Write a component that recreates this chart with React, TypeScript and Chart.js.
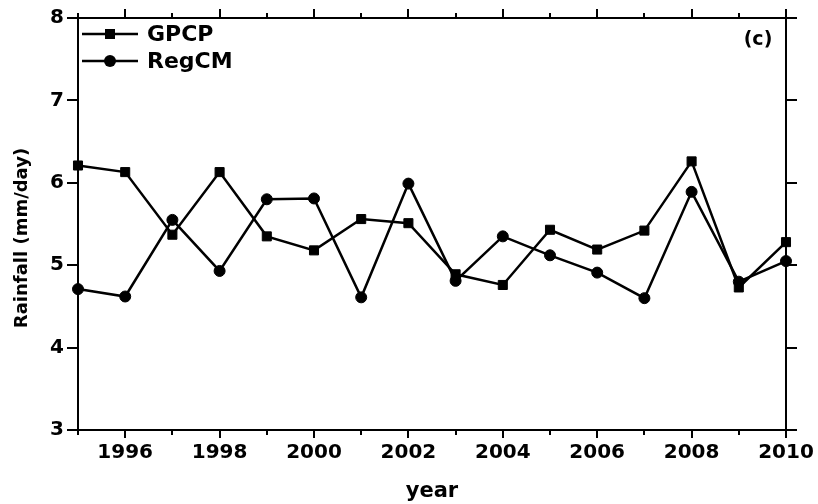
import React, { useEffect, useRef } from 'react';
import { Chart, registerables } from 'chart.js';

Chart.register(...registerables);

const years = [1995, 1996, 1997, 1998, 1999, 2000, 2001, 2002, 2003, 2004, 2005, 2006, 2007, 2008, 2009, 2010];
const gpcp = [6.21, 6.13, 5.37, 6.13, 5.35, 5.18, 5.56, 5.51, 4.89, 4.76, 5.43, 5.19, 5.42, 6.26, 4.73, 5.28];
const regcm = [4.71, 4.62, 5.55, 4.93, 5.80, 5.81, 4.61, 5.99, 4.81, 5.35, 5.12, 4.91, 4.60, 5.89, 4.80, 5.05];
const yTicks = [3, 4, 5, 6, 7, 8];
const seriesNames = ['GPCP', 'RegCM'];
const seriesMarkers = ['rect', 'circle'];
const panelLabel = '(c)';
const xTitle = 'year';
const yTitle = 'Rainfall (mm/day)';

const FONT = "'DejaVu Sans', 'Liberation Sans', sans-serif";

const frameTicks = {
  id: 'frameTicks',
  afterDraw(chart: any) {
    const ctx = chart.ctx;
    const { left, right, top, bottom } = chart.chartArea;
    const xs = chart.scales.x;
    const ys = chart.scales.y;
    ctx.save();
    ctx.strokeStyle = '#000';
    ctx.lineWidth = 2;
    ctx.beginPath();
    for (const yr of years) {
      const px = Math.round(xs.getPixelForValue(yr));
      const major = yr % 2 === 0;
      ctx.moveTo(px, bottom);
      ctx.lineTo(px, bottom + (major ? 8 : 5));
      ctx.moveTo(px, top);
      ctx.lineTo(px, top - (major ? 9 : 5));
    }
    for (const v of yTicks) {
      const py = Math.round(ys.getPixelForValue(v));
      ctx.moveTo(left, py);
      ctx.lineTo(left - 11, py);
      ctx.moveTo(right, py);
      ctx.lineTo(right + 11, py);
    }
    ctx.stroke();

    // y axis title
    ctx.fillStyle = '#000';
    ctx.font = `bold 18px ${FONT}`;
    ctx.textAlign = 'center';
    ctx.textBaseline = 'middle';
    ctx.save();
    ctx.translate(22, 238);
    ctx.rotate(-Math.PI / 2);
    ctx.fillText(yTitle, 0, 0);
    ctx.restore();

    // panel label
    ctx.font = `bold 19px ${FONT}`;
    ctx.textAlign = 'center';
    ctx.fillText(panelLabel, right - 28, top + 22);

    // legend
    chart.data.datasets.forEach((ds: any, i: number) => {
      const y = top + 16 + i * 27;
      ctx.beginPath();
      ctx.lineWidth = 2.5;
      ctx.moveTo(left + 4, y);
      ctx.lineTo(left + 60, y);
      ctx.stroke();
      const cx = left + 32;
      ctx.beginPath();
      if (seriesMarkers[i] === 'rect') {
        ctx.rect(cx - 5, y - 5, 10, 10);
      } else {
        ctx.arc(cx, y, 6, 0, Math.PI * 2);
      }
      ctx.fill();
      ctx.font = `bold 22px ${FONT}`;
      ctx.textAlign = 'left';
      ctx.textBaseline = 'middle';
      ctx.fillText(ds.label, left + 69, y + 1);
    });
    ctx.restore();
  },
};

const tickFont = { family: FONT, size: 20, weight: 'bold' as const };

export default function App() {
  const ref = useRef<HTMLCanvasElement | null>(null);

  useEffect(() => {
    document.body.style.margin = '0';
    if (!ref.current) return;
    const chart = new Chart(ref.current, {
      type: 'line',
      data: {
        datasets: [
          {
            label: seriesNames[0],
            data: years.map((x, i) => ({ x, y: gpcp[i] })),
            borderColor: '#000',
            backgroundColor: '#000',
            borderWidth: 2.5,
            pointStyle: 'rect',
            pointRadius: 6.4,
            pointBorderWidth: 1,
            pointBackgroundColor: '#000',
            pointBorderColor: '#000',
            tension: 0,
            clip: false as any,
          },
          {
            label: seriesNames[1],
            data: years.map((x, i) => ({ x, y: regcm[i] })),
            borderColor: '#000',
            backgroundColor: '#000',
            borderWidth: 2.5,
            pointStyle: 'circle',
            pointRadius: 5.5,
            pointBorderWidth: 1,
            pointBackgroundColor: '#000',
            pointBorderColor: '#000',
            tension: 0,
            clip: false as any,
          },
        ],
      },
      options: {
        animation: false,
        responsive: false,
        events: [],
        layout: { padding: 0 },
        plugins: { legend: { display: false }, tooltip: { enabled: false } },
        scales: {
          x: {
            type: 'linear',
            position: 'bottom',
            min: 1995,
            max: 2010,
            afterFit: (s: any) => { s.height = 74; s.paddingLeft = 0; s.paddingRight = 0; },
            ticks: {
              stepSize: 1,
              maxTicksLimit: 20,
              autoSkip: false,
              maxRotation: 0,
              padding: 11,
              color: '#000',
              font: tickFont,
              callback: (v: any) => (Number(v) % 2 === 0 ? String(v) : ''),
            },
            grid: { display: false, drawTicks: false },
            border: { display: true, color: '#000', width: 2 },
            title: {
              display: true,
              text: xTitle,
              color: '#000',
              font: { family: FONT, size: 21, weight: 'bold' },
              padding: { top: 0, bottom: 0 },
            },
          },
          xTop: {
            type: 'linear',
            position: 'top',
            min: 1995,
            max: 2010,
            afterFit: (s: any) => { s.height = 18; s.paddingLeft = 0; s.paddingRight = 0; },
            ticks: { display: false },
            grid: { display: false, drawTicks: false },
            border: { display: true, color: '#000', width: 2 },
          },
          y: {
            type: 'linear',
            position: 'left',
            min: 3,
            max: 8,
            afterFit: (s: any) => { s.width = 78; s.paddingTop = 0; s.paddingBottom = 0; },
            ticks: { stepSize: 1, padding: 14, color: '#000', font: tickFont },
            grid: { display: false, drawTicks: false },
            border: { display: true, color: '#000', width: 2 },
          },
          yRight: {
            type: 'linear',
            position: 'right',
            min: 3,
            max: 8,
            afterFit: (s: any) => { s.width = 32; s.paddingTop = 0; s.paddingBottom = 0; },
            ticks: { display: false },
            grid: { display: false, drawTicks: false },
            border: { display: true, color: '#000', width: 2 },
          },
        },
      },
      plugins: [frameTicks],
    });
    return () => chart.destroy();
  }, []);

  return (
    <div style={{ width: 818, height: 504 }}>
      <canvas ref={ref} width={818} height={504} style={{ display: 'block' }} />
    </div>
  );
}
